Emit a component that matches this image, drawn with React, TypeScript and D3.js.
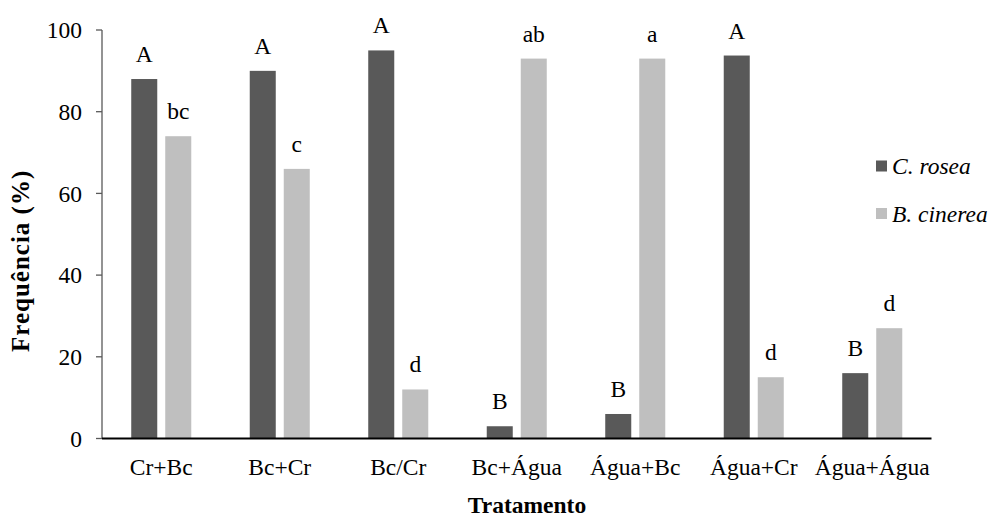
import React from "react";
import * as d3 from "d3";

const categories = ["Cr+Bc", "Bc+Cr", "Bc/Cr", "Bc+Água", "Água+Bc", "Água+Cr", "Água+Água"];
const seriesNames = ["C. rosea", "B. cinerea"];
const roseaValues = [88, 90, 95, 3, 6, 93.75, 16];
const cinereaValues = [74, 66, 12, 93, 93, 15, 27];
const roseaLetters = ["A", "A", "A", "B", "B", "A", "B"];
const cinereaLetters = ["bc", "c", "d", "ab", "a", "d", "d"];
const yTicks = [0, 20, 40, 60, 80, 100];
const colors = ["#595959", "#BFBFBF"];

const W = 992;
const H = 520;
const FS = 23.5;

export default function App() {
  const x0 = d3.scaleBand<string>().domain(categories).range([102, 931.5]).paddingInner(0).paddingOuter(0);
  const x1 = d3.scaleBand<string>().domain(seriesNames).range([0, x0.bandwidth()]).paddingInner(0.235).paddingOuter(0.86);
  const y = d3.scaleLinear().domain([0, 100]).range([438.5, 30]);

  const series = [
    { name: seriesNames[0], values: roseaValues, letters: roseaLetters, color: colors[0] },
    { name: seriesNames[1], values: cinereaValues, letters: cinereaLetters, color: colors[1] },
  ];

  return (
    <svg width={W} height={H} style={{ position: "absolute", left: 0, top: 0, display: "block" }}>
      <style>{`text { font-family: "Liberation Serif", serif; }`}</style>
      <rect x={0} y={0} width={W} height={H} fill="#ffffff" />
      {/* y axis */}
      <line x1={102} x2={102} y1={y(100)} y2={y(0)} stroke="#595959" strokeWidth={1.3} />
      {yTicks.map((t) => (
        <g key={t}>
          <line x1={96} x2={102} y1={y(t)} y2={y(t)} stroke="#595959" strokeWidth={1.3} />
          <text x={82} y={y(t)} dy="0.35em" textAnchor="end" fontSize={FS} fill="#000">
            {t}
          </text>
        </g>
      ))}
      {/* bars */}
      {series.map((s) =>
        categories.map((c, i) => {
          const bx = (x0(c) as number) + (x1(s.name) as number);
          const by = y(s.values[i]);
          return (
            <g key={s.name + c}>
              <rect x={bx} y={by} width={x1.bandwidth()} height={y(0) - by} fill={s.color} />
              <text x={bx + x1.bandwidth() / 2} y={by - 17} textAnchor="middle" fontSize={FS} fill="#000">
                {s.letters[i]}
              </text>
            </g>
          );
        })
      )}
      {/* x axis */}
      <line x1={102} x2={931.5} y1={y(0)} y2={y(0)} stroke="#000" strokeWidth={2} />
      {categories.map((c) => (
        <text key={c} x={(x0(c) as number) + x0.bandwidth() / 2} y={475} textAnchor="middle" fontSize={FS} fill="#000">
          {c}
        </text>
      ))}
      <text x={527} y={513} textAnchor="middle" fontSize={FS} fontWeight="bold" fill="#000">
        Tratamento
      </text>
      <text transform={`translate(29, 352) rotate(-90)`} textAnchor="start" fontSize={25} letterSpacing={1} fontWeight="bold" fill="#000">
        Frequência (%)
      </text>
      {/* legend */}
      {series.map((s, i) => (
        <g key={s.name} transform={`translate(876, ${160.5 + i * 47.5})`}>
          <rect x={0} y={0} width={11} height={11} fill={s.color} />
          <text x={16} y={13.8} fontSize={FS} fontStyle="italic" fill="#000">
            {s.name}
          </text>
        </g>
      ))}
    </svg>
  );
}
